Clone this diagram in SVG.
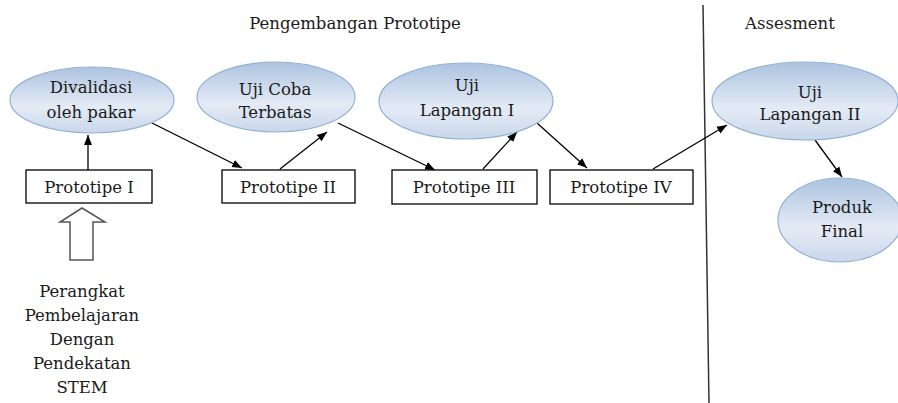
<svg xmlns="http://www.w3.org/2000/svg" width="898" height="403" viewBox="0 0 898 403">
<style>
text{font-family:"DejaVu Serif","Liberation Serif",serif;font-size:16.5px;fill:#1a1a1a;text-anchor:middle}
.ell{fill:url(#g);stroke:#93b1d6;stroke-width:1.2}
.box{fill:#fff;stroke:#000;stroke-width:1.3}
.con{stroke:#000;stroke-width:1.3;fill:none;marker-end:url(#ah)}
</style>
<defs>
<linearGradient id="g" x1="0" y1="0" x2="0" y2="1">
<stop offset="0" stop-color="#adc3e0"/>
<stop offset="0.6" stop-color="#e4ebf5"/>
<stop offset="1" stop-color="#c9d7ea"/>
</linearGradient>
<marker id="ah" viewBox="0 0 10 10" refX="10" refY="5" markerWidth="10" markerHeight="10" markerUnits="userSpaceOnUse" orient="auto">
<path d="M0,1 L10,5 L0,9 z" fill="#000"/>
</marker>
</defs>
<rect width="898" height="403" fill="#fff"/>
<text x="355" y="29">Pengembangan Prototipe</text>
<text x="790" y="29">Assesment</text>
<line x1="703" y1="5" x2="709" y2="403" stroke="#333" stroke-width="1.5"/>
<g id="connectors">
<line class="con" x1="88" y1="170" x2="88" y2="135"/>
<line class="con" x1="152" y1="123" x2="242" y2="168"/>
<line class="con" x1="280" y1="169" x2="327" y2="132"/>
<line class="con" x1="338" y1="123" x2="435" y2="170"/>
<line class="con" x1="483" y1="169" x2="517" y2="132"/>
<line class="con" x1="537" y1="123" x2="587" y2="168"/>
<line class="con" x1="653" y1="169" x2="727" y2="125"/>
<line class="con" x1="815" y1="140" x2="842" y2="177"/>
</g>
<g id="n-validasi"><ellipse class="ell" cx="92" cy="100" rx="82" ry="33"/><text x="91" y="93">Divalidasi</text><text x="91" y="118">oleh pakar</text></g>
<g id="n-ujicoba"><ellipse class="ell" cx="276" cy="97" rx="79" ry="35"/><text x="275" y="95">Uji Coba</text><text x="275" y="118">Terbatas</text></g>
<g id="n-lapangan1"><ellipse class="ell" cx="466" cy="101" rx="87" ry="38"/><text x="467" y="91">Uji</text><text x="467" y="116">Lapangan I</text></g>
<g id="n-lapangan2"><ellipse class="ell" cx="805" cy="101" rx="93" ry="39"/><text x="810" y="98">Uji</text><text x="810" y="120">Lapangan II</text></g>
<g id="n-produk"><ellipse class="ell" cx="840" cy="220" rx="62" ry="42"/><text x="842" y="213">Produk</text><text x="842" y="237">Final</text></g>
<g id="n-p1"><rect class="box" x="26" y="170" width="126" height="33"/><text x="89" y="193">Prototipe I</text></g>
<g id="n-p2"><rect class="box" x="222" y="170" width="133" height="33"/><text x="288" y="193">Prototipe II</text></g>
<g id="n-p3"><rect class="box" x="392" y="170" width="145" height="34"/><text x="464" y="193">Prototipe III</text></g>
<g id="n-p4"><rect class="box" x="550" y="170" width="143" height="34"/><text x="621" y="193">Prototipe IV</text></g>
<g id="n-input">
<polygon points="82,208 105,222 93,222 93,260 70,260 70,222 60,222" fill="#fff" stroke="#555" stroke-width="1.5"/>
<text x="82" y="297">Perangkat</text>
<text x="82" y="321">Pembelajaran</text>
<text x="82" y="345">Dengan</text>
<text x="82" y="369">Pendekatan</text>
<text x="82" y="393">STEM</text>
</g>
</svg>
